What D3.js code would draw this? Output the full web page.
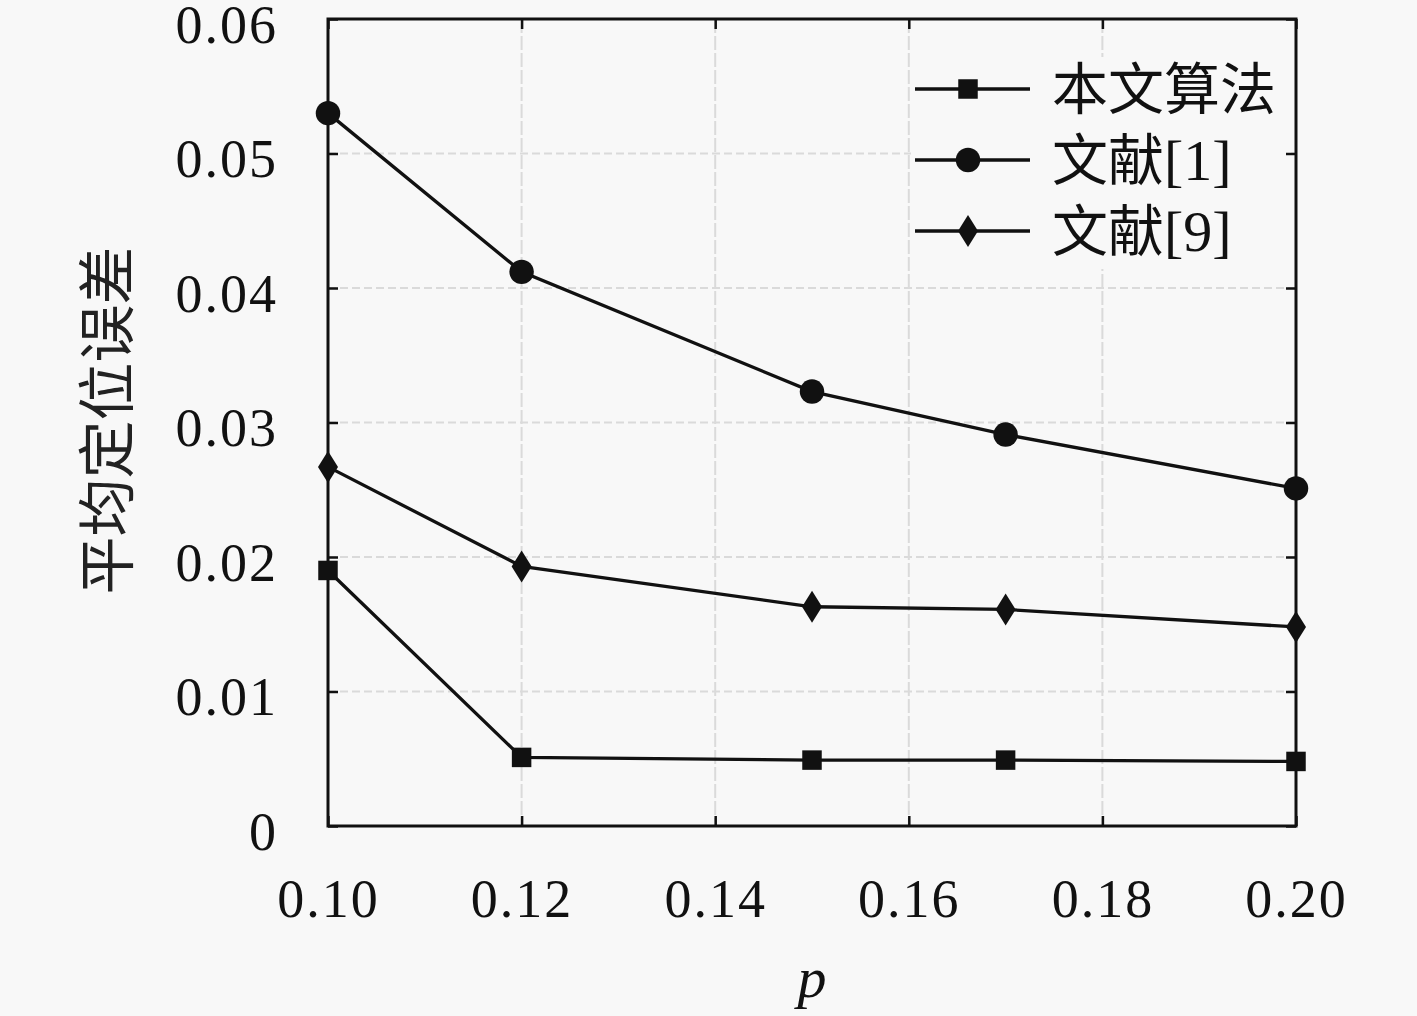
<!DOCTYPE html>
<html>
<head>
<meta charset="utf-8">
<script src="https://cdn.jsdelivr.net/npm/d3@7"></script>
<style>
  body { margin: 0; background: #f8f8f8; }
  svg { display: block; }
</style>
</head>
<body>
<div id="wrapper"></div>
<script>
const p_values = [0.10, 0.12, 0.15, 0.17, 0.20];
const ours = [0.0190, 0.0051, 0.0049, 0.0049, 0.0048];
const ref1 = [0.0530, 0.0412, 0.0323, 0.0291, 0.0251];
const ref9 = [0.0267, 0.0193, 0.0163, 0.0161, 0.0148];
const series_names = ["本文算法", "文献[1]", "文献[9]"];
const x_ticks = [0.10, 0.12, 0.14, 0.16, 0.18, 0.20];
const y_ticks = [0, 0.01, 0.02, 0.03, 0.04, 0.05, 0.06];

const series = [
    { name: series_names[0], values: ours, marker: "square" },
    { name: series_names[1], values: ref1, marker: "circle" },
    { name: series_names[2], values: ref9, marker: "diamond" }
];

const dimensions = {
    width: 1417,
    height: 1016,
    margin: { top: 19, right: 121, bottom: 190, left: 328 }
};
dimensions.bounded_width = dimensions.width - dimensions.margin.left - dimensions.margin.right;
dimensions.bounded_height = dimensions.height - dimensions.margin.top - dimensions.margin.bottom;

const wrapper = d3.select("#wrapper")
    .append("svg")
    .attr("width", dimensions.width)
    .attr("height", dimensions.height);

const bounds = wrapper.append("g")
    .attr("transform", `translate(${dimensions.margin.left},${dimensions.margin.top})`);

const x_scale = d3.scaleLinear()
    .domain([0.10, 0.20])
    .range([0, dimensions.bounded_width]);

const y_scale = d3.scaleLinear()
    .domain([0, 0.06])
    .range([dimensions.bounded_height, 0]);

const serif = "'Liberation Serif', 'Times New Roman', serif";
const cjk = "'Noto Sans CJK SC', sans-serif";

// grid
bounds.append("g")
    .selectAll("line")
    .data(x_ticks)
    .join("line")
    .attr("x1", d => x_scale(d)).attr("x2", d => x_scale(d))
    .attr("y1", 0).attr("y2", dimensions.bounded_height)
    .attr("stroke", "#dadada")
    .attr("stroke-width", 2)
    .attr("stroke-dasharray", "14,3");

bounds.append("g")
    .selectAll("line")
    .data(y_ticks)
    .join("line")
    .attr("x1", 0).attr("x2", dimensions.bounded_width)
    .attr("y1", d => y_scale(d)).attr("y2", d => y_scale(d))
    .attr("stroke", "#dadada")
    .attr("stroke-width", 2)
    .attr("stroke-dasharray", "8,4");

// legend background hides the grid under it
bounds.append("rect")
    .attr("x", 583).attr("y", 38).attr("width", 380).attr("height", 212)
    .attr("fill", "#f8f8f8");

// axes with inward ticks, mirrored on top and right
bounds.append("g")
    .attr("transform", `translate(0,${dimensions.bounded_height})`)
    .call(d3.axisBottom(x_scale).tickValues(x_ticks).tickFormat(d3.format(".2f"))
        .tickSizeInner(-10).tickSizeOuter(0).tickPadding(53));
bounds.append("g")
    .call(d3.axisTop(x_scale).tickValues(x_ticks).tickFormat("")
        .tickSizeInner(-10).tickSizeOuter(0));

const y_axis = bounds.append("g")
    .call(d3.axisLeft(y_scale).tickValues(y_ticks).tickFormat(d => d === 0 ? "0" : d3.format(".2f")(d))
        .tickSizeInner(-10).tickSizeOuter(0).tickPadding(50));
bounds.append("g")
    .attr("transform", `translate(${dimensions.bounded_width},0)`)
    .call(d3.axisRight(y_scale).tickValues(y_ticks).tickFormat("")
        .tickSizeInner(-10).tickSizeOuter(0));

bounds.selectAll(".domain").remove();
bounds.selectAll(".tick line").attr("stroke", "#111").attr("stroke-width", 2.5);
bounds.selectAll(".tick text")
    .attr("fill", "#111")
    .style("font-family", serif)
    .style("font-size", "54px")
    .style("letter-spacing", "2px");
y_axis.selectAll(".tick text").attr("dy", "0.43em");

// frame
bounds.append("rect")
    .attr("width", dimensions.bounded_width)
    .attr("height", dimensions.bounded_height)
    .attr("fill", "none")
    .attr("stroke", "#111")
    .attr("stroke-width", 3);

// labels
wrapper.append("text")
    .attr("x", dimensions.margin.left + dimensions.bounded_width / 2)
    .attr("y", 997)
    .attr("text-anchor", "middle")
    .attr("fill", "#111")
    .style("font-family", serif)
    .style("font-style", "italic")
    .style("font-size", "58px")
    .text("p");

wrapper.append("text")
    .attr("transform", `translate(128,${dimensions.margin.top + dimensions.bounded_height / 2 - 2}) rotate(-90)`)
    .attr("text-anchor", "middle")
    .attr("fill", "#222")
    .style("font-family", cjk)
    .style("font-size", "58px")
    .text("平均定位误差");

// markers
const symbol_gen = {
    square: () => d3.symbol().type(d3.symbolSquare).size(380)(),
    circle: () => d3.symbol().type(d3.symbolCircle).size(470)(),
    diamond: () => "M0,-16L10,0L0,16L-10,0Z"
};

const line_gen = d3.line()
    .x((d, i) => x_scale(p_values[i]))
    .y(d => y_scale(d));

series.forEach(s => {
    bounds.append("path")
        .attr("d", line_gen(s.values))
        .attr("fill", "none")
        .attr("stroke", "#111")
        .attr("stroke-width", 3.3);
    bounds.append("g")
        .selectAll("path")
        .data(s.values)
        .join("path")
        .attr("transform", (d, i) => `translate(${x_scale(p_values[i])},${y_scale(d)})`)
        .attr("d", symbol_gen[s.marker]())
        .attr("fill", "#111");
});

// legend
const legend = bounds.append("g")
    .attr("transform", `translate(587,70)`);
const legend_rows = legend.selectAll("g")
    .data(series)
    .join("g")
    .attr("transform", (d, i) => `translate(0,${i * 71})`);
legend_rows.append("line")
    .attr("x1", 0).attr("x2", 115)
    .attr("stroke", "#111")
    .attr("stroke-width", 3.3);
legend_rows.append("path")
    .attr("transform", "translate(53,0)")
    .attr("d", d => symbol_gen[d.marker]())
    .attr("fill", "#111");
const legend_text = legend_rows.append("text")
    .attr("x", 137)
    .attr("dy", "0.36em")
    .attr("fill", "#111")
    .style("font-family", cjk)
    .style("font-size", "56px");
// CJK part in the CJK font, bracketed reference number in the serif font
legend_text.append("tspan")
    .text(d => d.name.replace(/\[.*\]/, ""));
legend_text.append("tspan")
    .style("font-family", serif)
    .style("font-size", "58px")
    .text(d => (d.name.match(/\[.*\]/) || [""])[0]);
</script>
</body>
</html>
